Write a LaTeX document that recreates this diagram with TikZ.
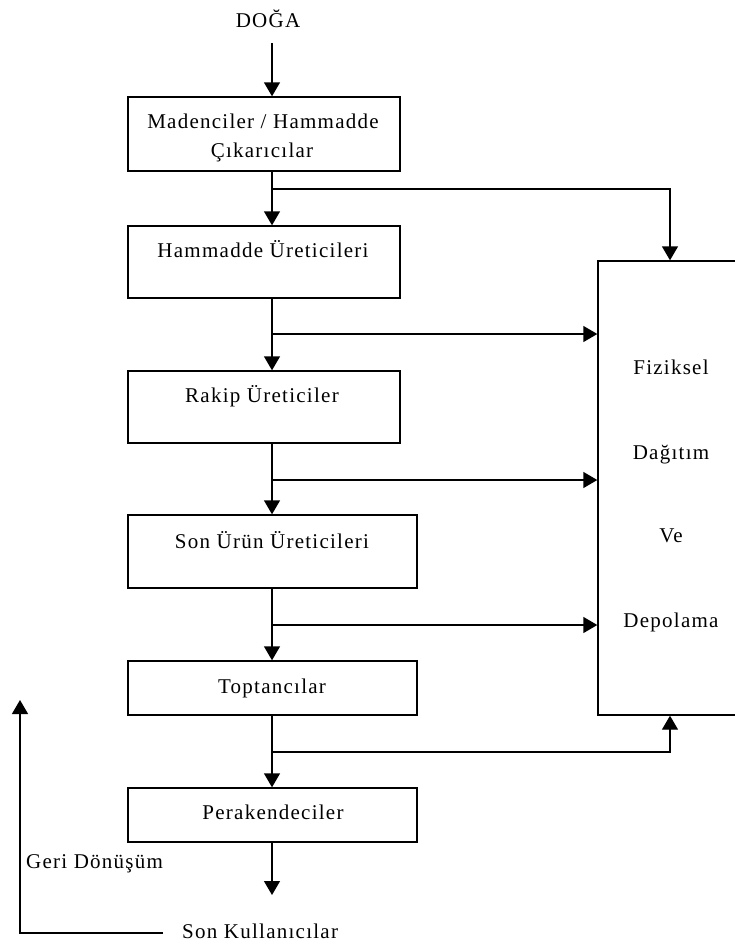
\documentclass[tikz,border=0pt]{standalone}
\usepackage{fontspec}
\setmainfont{Liberation Serif}[LetterSpace=6]
\usetikzlibrary{arrows.meta}
\begin{document}
\begin{tikzpicture}[x=1pt,y=-1pt,
  box/.style={draw, line width=1.4pt, inner sep=0pt},
  txt/.style={anchor=base, inner sep=0pt, font=\fontsize{21}{25}\selectfont},
  arr/.style={line width=1.4pt, -{Triangle[width=16pt,length=14pt]}}]
\useasboundingbox (0,0) rectangle (734,945);

% supply chain boxes
\node[box, minimum width=272pt, minimum height=74pt] (mine)   at (264,134)   {};
\node[box, minimum width=272pt, minimum height=72pt] (raw)    at (264,262)   {};
\node[box, minimum width=272pt, minimum height=72pt] (rival)  at (264,407)   {};
\node[box, minimum width=289pt, minimum height=73pt] (final)  at (272.5,551.5) {};
\node[box, minimum width=289pt, minimum height=54pt] (whole)  at (272.5,688) {};
\node[box, minimum width=289pt, minimum height=54pt] (retail) at (272.5,815) {};
% distribution and storage (runs past the right edge)
\node[box, minimum width=142pt, minimum height=454pt] (dist) at (669,488) {};

% labels
\node[txt] (nature) at (268,27)  {DOĞA};
\node[txt] (t1a)    at (263,128) {Madenciler / Hammadde};
\node[txt] (t1b)    at (262,157) {Çıkarıcılar};
\node[txt] (t2)     at (263,257) {Hammadde Üreticileri};
\node[txt] (t3)     at (262,402) {Rakip Üreticiler};
\node[txt] (t4)     at (272,548) {Son Ürün Üreticileri};
\node[txt] (t5)     at (272,693) {Toptancılar};
\node[txt] (t6)     at (273,819) {Perakendeciler};
\node[txt] (d1)     at (671,374) {Fiziksel};
\node[txt] (d2)     at (671,459) {Dağıtım};
\node[txt] (d3)     at (671,542) {Ve};
\node[txt] (d4)     at (671,627) {Depolama};
\node[txt, anchor=base west] (recyc) at (26,868)  {Geri Dönüşüm};
\node[txt, anchor=base west] (users) at (182,938) {Son Kullanıcılar};

% guide coordinates
\coordinate (spine) at (272,0);
\coordinate (drop)  at (670,0);
\coordinate (src)   at (272,43);
\coordinate (j1)    at (272,189);
\coordinate (j2)    at (272,334);
\coordinate (j3)    at (272,480);
\coordinate (j4)    at (272,625);
\coordinate (j5)    at (272,752);
\coordinate (endtip) at (272,895);
\coordinate (rstart) at (163,933);
\coordinate (rtip)   at (20,700);

% main flow
\draw[arr] (src) -- (mine.north -| src);
\draw[arr] (mine.south -| spine)  -- (raw.north -| spine);
\draw[arr] (raw.south -| spine)   -- (rival.north -| spine);
\draw[arr] (rival.south -| spine) -- (final.north -| spine);
\draw[arr] (final.south -| spine) -- (whole.north -| spine);
\draw[arr] (whole.south -| spine) -- (retail.north -| spine);
\draw[arr] (retail.south -| spine) -- (endtip);

% branches to distribution
\draw[arr] (j1) -| (dist.north -| drop);
\draw[arr] (j2) -- (dist.west |- j2);
\draw[arr] (j3) -- (dist.west |- j3);
\draw[arr] (j4) -- (dist.west |- j4);
\draw[arr] (j5) -| (dist.south -| drop);

% recycling loop
\draw[arr] (rstart) -| (rtip);
\end{tikzpicture}
\end{document}
